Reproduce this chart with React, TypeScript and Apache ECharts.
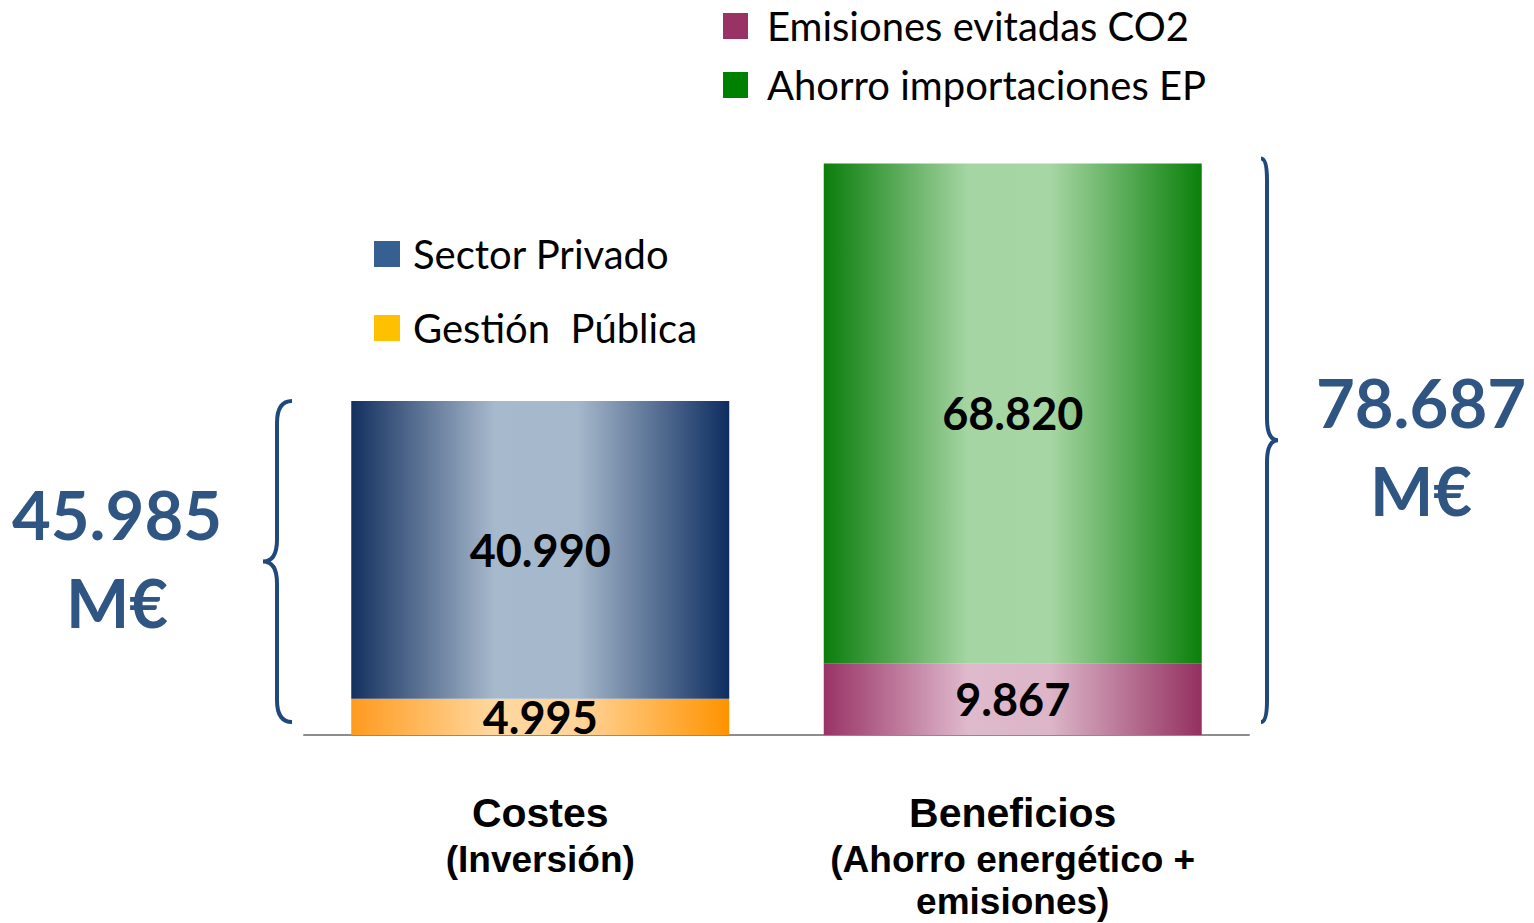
import React, { useEffect, useRef } from "react";
import * as echarts from "echarts";

const categories = ["Costes", "Beneficios"];
const subtitles = ["(Inversión)", "(Ahorro energético +\nemisiones)"];
const gestionPublica: (number | string)[] = [4995, "-"];
const sectorPrivado: (number | string)[] = [40990, "-"];
const emisionesCO2: (number | string)[] = ["-", 9867];
const ahorroEP: (number | string)[] = ["-", 68820];
const unit = "M€";

const fmt = (v: number) => String(v).replace(/\B(?=(\d{3})+(?!\d))/g, ".");

const grad = (edgeL: string, mid1: string, mid2: string, edgeR: string) =>
  new echarts.graphic.LinearGradient(0, 0, 1, 0, [
    { offset: 0, color: edgeL },
    { offset: 0.38, color: mid1 },
    { offset: 0.6, color: mid2 },
    { offset: 1, color: edgeR },
  ]);

echarts.graphic.registerShape(
  "brace",
  echarts.graphic.extendShape({
    shape: { x: 0, y1: 0, y2: 100, d: -1, e: 15, t: 14, r: 20 },
    buildPath(ctx: any, s: any) {
      const ym = (s.y1 + s.y2) / 2;
      ctx.moveTo(s.x - s.d * s.e, s.y1);
      ctx.quadraticCurveTo(s.x, s.y1, s.x, s.y1 + s.r);
      ctx.lineTo(s.x, ym - s.r);
      ctx.quadraticCurveTo(s.x, ym, s.x + s.d * s.t, ym);
      ctx.quadraticCurveTo(s.x, ym, s.x, ym + s.r);
      ctx.lineTo(s.x, s.y2 - s.r);
      ctx.quadraticCurveTo(s.x, s.y2, s.x - s.d * s.e, s.y2);
    },
  })
);

const CAL = "Lato, 'Open Sans', sans-serif";
const NARROW = "'Liberation Sans Narrow', 'Arial Narrow', 'Liberation Sans', sans-serif";

export default function App() {
  const ref = useRef<HTMLDivElement>(null);
  useEffect(() => {
    if (!ref.current) return;
    const chart = echarts.init(ref.current, null, { renderer: "svg" });
    const label = {
      show: true,
      position: "inside",
      color: "#000",
      fontWeight: "bold",
      fontSize: 45,
      fontFamily: CAL,
      formatter: (p: any) => fmt(p.value),
    };
    const mk = (name: string, data: any[], color: any) => ({
      name,
      type: "bar",
      stack: "total",
      data,
      barWidth: "80%",
      itemStyle: { color },
      label,
    });
    chart.setOption({
      animation: false,
      grid: { left: 304, width: 945, top: 154, height: 581, outerBoundsMode: "none", containLabel: false },
      legend: [
        {
          orient: "vertical",
          left: 723,
          top: 6,
          padding: 0,
          icon: "rect",
          itemWidth: 25,
          itemHeight: 26,
          itemGap: 19,
          selectedMode: false,
          textStyle: { fontSize: 40, fontFamily: CAL, color: "#000", lineHeight: 40, padding: [0, 0, 0, 14] },
          data: [
            { name: "Emisiones evitadas CO2", itemStyle: { color: "#993366" } },
            { name: "Ahorro importaciones EP", itemStyle: { color: "#008000" } },
          ],
        },
        {
          orient: "vertical",
          left: 374,
          top: 234,
          padding: 0,
          icon: "rect",
          itemWidth: 26,
          itemHeight: 26,
          itemGap: 34,
          selectedMode: false,
          textStyle: { fontSize: 40, fontFamily: CAL, color: "#000", lineHeight: 40, padding: [0, 0, 0, 8] },
          data: [
            { name: "Sector Privado", itemStyle: { color: "#376092" } },
            { name: "Gestión  Pública", itemStyle: { color: "#ffc000" } },
          ],
        },
      ],
      xAxis: {
        type: "category",
        data: categories,
        axisLine: { lineStyle: { color: "#8c8c8c", width: 2 } },
        axisTick: { show: false },
        axisLabel: {
          margin: 53,
          interval: 0,
          formatter: (v: string, i: number) => {
            const sub = subtitles[i].split("\n").map((l) => `{s|${l}}`).join("\n");
            return `{t|${v}}\n${sub}`;
          },
          rich: {
            t: { fontSize: 41, fontWeight: "bold", fontFamily: NARROW, color: "#000", lineHeight: 50 },
            s: { fontSize: 37, fontWeight: "bold", fontFamily: NARROW, color: "#000", lineHeight: 42 },
          },
        },
      },
      yAxis: { type: "value", min: 0, max: 80000, show: false, splitLine: { show: false } },
      series: [
        mk("Gestión  Pública", gestionPublica, grad("#ff9a1f", "#ffd89f", "#ffd49a", "#ff9300")),
        mk("Sector Privado", sectorPrivado, grad("#13305f", "#a7b9cc", "#a5b7ca", "#0e2d60")),
        mk("Emisiones evitadas CO2", emisionesCO2, grad("#993366", "#dfb9cc", "#dcb5c8", "#943060")),
        mk("Ahorro importaciones EP", ahorroEP, grad("#0b7d0b", "#a4d5a2", "#a6d6a3", "#0a800a")),
      ],
    });

    const totals = categories.map((_, i) =>
      [gestionPublica, sectorPrivado, emisionesCO2, ahorroEP].reduce(
        (s, arr) => s + (typeof arr[i] === "number" ? (arr[i] as number) : 0),
        0
      )
    );
    const y0 = chart.convertToPixel({ gridIndex: 0 }, [0, 0])[1];
    const yL = chart.convertToPixel({ gridIndex: 0 }, [0, totals[0]])[1];
    const yR = chart.convertToPixel({ gridIndex: 0 }, [1, totals[1]])[1];
    const braceStyle = { fill: "none", stroke: "#1f497d", lineWidth: 4 };
    const bigText = (x: number, y: number, txt: string) => ({
      type: "text",
      x,
      y,
      style: {
        text: txt,
        fill: "#2f5583",
        fontSize: 67,
        fontWeight: "bold",
        fontFamily: CAL,
        lineHeight: 88,
        align: "center",
        verticalAlign: "middle",
      },
    });
    chart.setOption({
      graphic: [
        { type: "brace", shape: { x: 277, y1: yL, y2: y0 - 13, d: -1, e: 15, t: 14, r: 22 }, style: braceStyle },
        { type: "brace", shape: { x: 1267, y1: yR - 5, y2: y0 - 13, d: 1, e: 6, t: 11, r: 22 }, style: braceStyle },
        bigText(117, (yL + y0) / 2 - 10, `${fmt(totals[0])}\n${unit}`),
        bigText(1421, (yR + y0) / 2 - 3, `${fmt(totals[1])}\n${unit}`),
      ],
    });
    return () => chart.dispose();
  }, []);
  return <div ref={ref} style={{ position: "absolute", left: 0, top: 0, width: 1534, height: 923 }} />;
}
